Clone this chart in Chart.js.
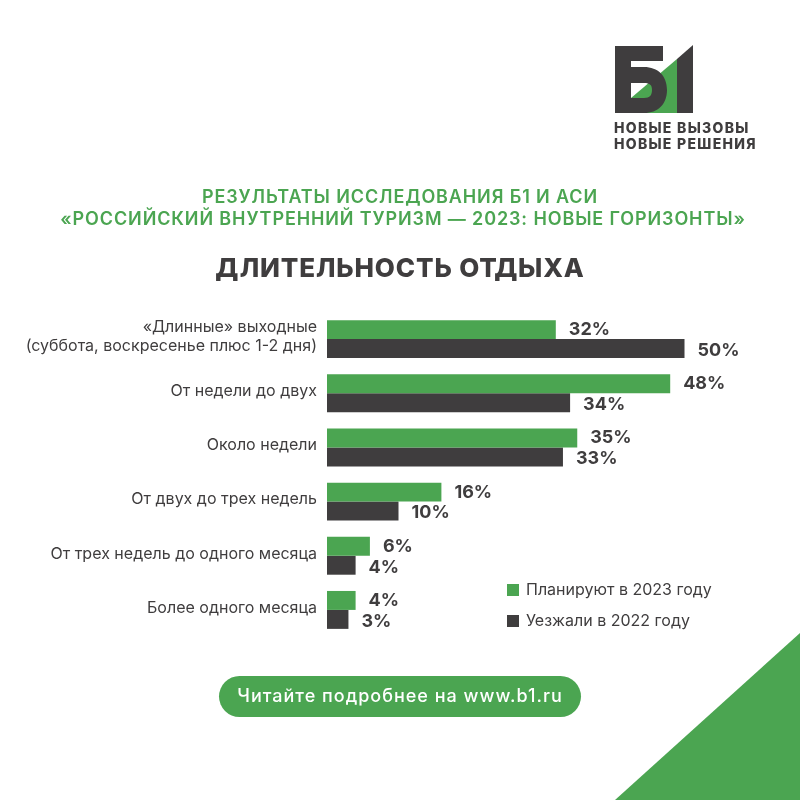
<!DOCTYPE html>
<html>
<head>
<meta charset="utf-8">
<script src="https://cdn.jsdelivr.net/npm/chart.js@4"></script>
<style>
  html, body { margin: 0; padding: 0; background: #fff; }
  #wrap { position: relative; width: 800px; height: 800px; overflow: hidden; font-family: Inter, sans-serif; }
  #wrap canvas { position: absolute; left: 0; top: 0; }
  .txt { position: absolute; left: 0; width: 800px; text-align: center; white-space: nowrap; }
  .deco { position: absolute; left: 0; top: 0; }
</style>
</head>
<body>
<div id="wrap">
  <svg class="deco" width="800" height="800">
    <polygon points="800,633 800,800 615,800" fill="#4ba551"/>
    <polygon points="631,98 677,59 677,113 631,113" fill="#4ba551"/>
    <path fill="#3f3d3e" fill-rule="evenodd" d="M615 46H663V61H631V67H644C658 67 667 76 667 90C667 104 658 113 644 113H615ZM631 83V98H644C650 98 652 95 652 90C652 85 650 83 644 83Z"/>
    <polygon points="677,59 693,45 693,113 677,113" fill="#3f3d3e"/>
    <rect x="219" y="676" width="362" height="41" rx="20.5" fill="#4ba551"/>
  </svg>
  <canvas id="myChart" width="800" height="800"></canvas>
  <div class="txt" style="left:614px;width:auto;text-align:left;top:120px;font-size:14px;line-height:16px;font-weight:800;color:#3f3d3e;letter-spacing:1.3px">НОВЫЕ ВЫЗОВЫ<br>НОВЫЕ РЕШЕНИЯ</div>
  <div class="txt" style="top:186px;font-size:18px;line-height:22px;font-weight:600;color:#4ba551;letter-spacing:.88px">РЕЗУЛЬТАТЫ ИССЛЕДОВАНИЯ Б1 И АСИ<br><span style="position:relative;left:3px">«РОССИЙСКИЙ ВНУТРЕННИЙ ТУРИЗМ — 2023: НОВЫЕ ГОРИЗОНТЫ»</span></div>
  <div class="txt" style="top:253px;font-size:26px;line-height:30px;font-weight:800;color:#3f3d3e;letter-spacing:.85px">ДЛИТЕЛЬНОСТЬ ОТДЫХА</div>
  <div class="txt" style="top:686px;font-size:18px;line-height:20px;font-weight:500;color:#fff;letter-spacing:1px">Читайте подробнее на www.b1.ru</div>
</div>
<script>
const categories = [
  ['«Длинные» выходные', '(суббота, воскресенье плюс 1-2 дня)'],
  'От недели до двух',
  'Около недели',
  'От двух до трех недель',
  'От трех недель до одного месяца',
  'Более одного месяца'
];
const plan2023 = [32, 48, 35, 16, 6, 4];
const went2022 = [50, 34, 33, 10, 4, 3];
const GREEN = '#4ba551';
const DARK = '#3f3d3e';

// value labels next to the bars, the dark row sits a little lower
const valueLabels = {
  id: 'valueLabels',
  afterDatasetsDraw(chart) {
    const c = chart.ctx;
    c.save();
    c.font = '700 18px Inter, sans-serif';
    c.fillStyle = DARK;
    c.textBaseline = 'middle';
    c.textAlign = 'left';
    chart.data.datasets.forEach((ds, i) => {
      chart.getDatasetMeta(i).data.forEach((bar, j) => {
        c.fillText(ds.data[j] + '%', bar.x + 13, bar.y + i * 2);
      });
    });
    c.restore();
  }
};

// legend sits inside the plot, lower right
const sideLegend = {
  id: 'sideLegend',
  afterDraw(chart) {
    const c = chart.ctx;
    c.save();
    c.font = '400 16px Inter, sans-serif';
    c.textBaseline = 'middle';
    c.textAlign = 'left';
    chart.data.datasets.forEach((ds, i) => {
      const y = 590 + i * 31;
      c.fillStyle = ds.backgroundColor;
      c.fillRect(507, y - 6, 12, 12);
      c.fillStyle = DARK;
      c.fillText(ds.label, 526, y);
    });
    c.restore();
  }
};

new Chart(document.getElementById('myChart'), {
  type: 'bar',
  data: {
    labels: categories,
    datasets: [
      { label: 'Планируют в 2023 году', data: plan2023, backgroundColor: GREEN },
      { label: 'Уезжали в 2022 году', data: went2022, backgroundColor: DARK }
    ]
  },
  options: {
    indexAxis: 'y',
    responsive: false,
    animation: false,
    layout: { padding: { top: 312, bottom: 163, left: 0, right: 44 } },
    datasets: { bar: { categoryPercentage: 0.7, barPercentage: 1 } },
    plugins: { legend: { display: false }, tooltip: { enabled: false } },
    scales: {
      x: { display: false, min: 0, max: 60 },
      y: {
        afterFit(s) { s.width = 327; },
        grid: { display: false, drawTicks: false },
        border: { display: false },
        ticks: { color: DARK, padding: 10, labelOffset: -2, font: { family: 'Inter, sans-serif', size: 16 }, autoSkip: false }
      }
    }
  },
  plugins: [valueLabels, sideLegend]
});
</script>
</body>
</html>
